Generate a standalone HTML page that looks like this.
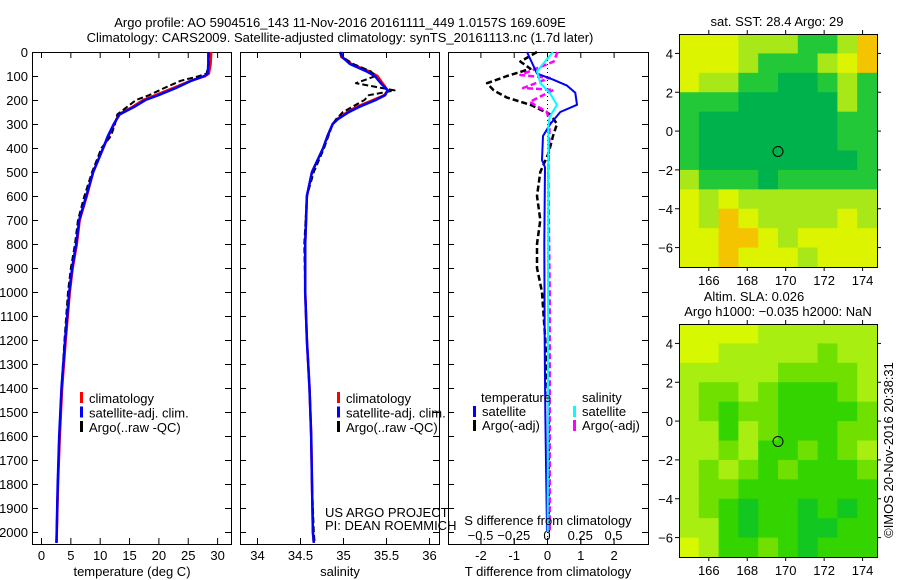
<!DOCTYPE html>
<html><head><meta charset="utf-8">
<style>
body{margin:0;background:#fff;}
svg{display:block;font-family:"Liberation Sans",sans-serif;}
text{font-size:13px;fill:#000;}
</style></head>
<body>
<svg id="c" width="900" height="580" viewBox="0 0 900 580"></svg>
<script>
// ---- data ----
const tDepth=[0,50,90,100,120,150,180,200,230,260,300,350,400,500,600,700,800,900,1000,1200,1400,1600,1800,2000,2045];
const tClim=[29.0,28.9,28.6,28.0,25.5,22.5,19.5,17.4,15.5,13.2,12.5,11.5,10.6,8.9,7.8,6.6,6.1,5.4,4.9,4.2,3.6,3.2,2.9,2.7,2.65];
const tSat=[28.5,28.5,28.4,27.8,25.6,23.0,20.0,17.8,15.8,13.4,12.4,11.4,10.6,8.9,7.7,6.5,6.0,5.3,4.8,4.1,3.5,3.1,2.85,2.68,2.63];
const tArgo=[28.6,28.6,28.2,27.0,23.8,21.0,18.4,16.2,14.6,13.0,12.6,11.9,10.3,8.7,7.4,6.3,5.8,5.1,4.6,4.0,3.5,3.1,2.85,2.68,2.63];
const sDepth=[0,20,50,80,100,130,160,180,200,230,250,280,300,350,400,500,600,800,1000,1200,1400,1600,1800,2000,2045];
const sClim=[34.97,34.98,35.1,35.3,35.4,35.46,35.52,35.48,35.35,35.15,35.05,34.93,34.88,34.82,34.77,34.64,34.58,34.56,34.56,34.58,34.61,34.63,34.64,34.65,34.66];
const sSat=[34.98,34.99,35.08,35.27,35.37,35.44,35.52,35.49,35.38,35.18,35.07,34.94,34.88,34.82,34.77,34.64,34.58,34.56,34.56,34.58,34.61,34.63,34.64,34.65,34.66];
const sArgo=[34.96,34.99,35.12,35.32,35.38,35.15,35.6,35.3,35.25,35.1,35.0,34.92,34.88,34.83,34.78,34.66,34.58,34.55,34.56,34.58,34.61,34.63,34.64,34.66,34.67];
const dtSatDepth=[0,90,115,140,170,220,250,300,350,450,480,800,1200,1500,1800,2000];
const dtSat=[-0.6,-0.3,0.18,0.6,0.85,0.9,0.4,0.1,-0.12,-0.15,-0.06,-0.08,-0.07,-0.05,-0.02,0];
const dsSatDepth=[0,80,130,170,220,270,310,2000];
const dsSat=[0.045,-0.075,-0.05,0.02,0.075,0.02,0.01,0.005];
const dtArgoDepth=[0,40,70,100,130,160,190,220,260,300,350,420,500,600,700,800,900,1000,1200,1500,2000];
const dtArgo=[-0.3,-0.8,-0.5,-1.2,-1.8,-1.6,-1.2,-0.5,0.1,0.3,0.18,0.05,-0.2,-0.3,-0.2,-0.3,-0.3,-0.15,-0.05,0.05,0.05];
const dsArgoDepth=[0,40,96,108,150,158,208,250,300,500,1000,1500,2000];
const dsArgo=[0.08,0.05,-0.2,0.02,-0.18,0.05,-0.13,0,0.02,0.01,0.02,0.02,0.02];
const depthTicks=[0,100,200,300,400,500,600,700,800,900,1000,1100,1200,1300,1400,1500,1600,1700,1800,1900,2000];
const tTicks=[0,5,10,15,20,25,30];
const sTicks=[34,34.5,35,35.5,36];
const sTickLabels=["34","34.5","35","35.5","36"];
const dTTicks=[-2,-1,0,1,2];
const dSTicks=[-0.5,-0.25,0,0.25,0.5];
const dSTickLabels=["\u22120.5","\u22120.25","0","0.25","0.5"];
const lonTicks=[166,168,170,172,174];
const latTicks=[4,2,0,-2,-4,-6];
const sstGrid=[
[0,0,0,1,1,1,2,2,1,4],
[0,0,0,1,2,2,2,1,0,4],
[0,1,1,2,2,3,3,2,1,2],
[2,2,2,3,3,3,3,3,1,2],
[2,3,3,3,3,3,3,3,2,2],
[2,3,3,3,3,3,3,3,2,2],
[2,3,3,3,3,3,3,3,3,2],
[1,2,2,2,3,2,2,2,2,2],
[0,1,0,1,1,1,1,1,1,1],
[0,1,4,0,1,1,1,1,0,1],
[0,0,4,4,0,1,0,0,0,0],
[0,0,4,0,0,0,1,0,0,0]];
const slaGrid=[
[0,0,0,0,1,1,1,1,1,1],
[0,0,1,1,1,1,1,2,1,1],
[1,1,1,1,1,2,2,2,2,1],
[1,2,2,1,2,3,3,3,2,1],
[1,2,3,2,2,3,3,3,3,2],
[1,1,3,1,2,3,3,3,2,2],
[1,1,2,1,3,3,2,3,2,1],
[1,2,1,2,3,2,3,3,3,2],
[1,2,2,3,3,3,3,3,3,3],
[1,2,3,4,3,3,4,3,4,3],
[1,1,3,4,3,3,4,4,3,3],
[0,1,3,3,2,3,4,3,3,3]];
const sstColors=["#dcf400","#a8e818","#22c838","#00b24c","#f4c400"];
const slaColors=["#d6f800","#a8ee10","#70e000","#34d400","#12c820"];
const argoLon=169.6, argoLat=-1.05;

// ---- helpers ----
const NS="http://www.w3.org/2000/svg";
const svg=document.getElementById('c');
function el(tag,attrs,parent){const e=document.createElementNS(NS,tag);for(const k in attrs)e.setAttribute(k,attrs[k]);(parent||svg).appendChild(e);return e;}
function txt(x,y,s,anchor,parent,name){const t=el('text',{x:x,y:y,'text-anchor':anchor||'start'},parent);t.textContent=s;


return t;}
const y=d=>52+d*0.24;
const PB=544;

function panel(x0,x1,name){
  const g=el('g',{});
  
  
  const r=el('rect',{x:x0+0.5,y:52.5,width:x1-x0,height:PB-52,fill:'none',stroke:'#000','stroke-width':1},g);
  
  
  depthTicks.forEach(d=>{
    el('line',{x1:x0,x2:x0+6,y1:y(d)+0.5,y2:y(d)+0.5,stroke:'#000'},g);
    el('line',{x1:x1-6,x2:x1,y1:y(d)+0.5,y2:y(d)+0.5,stroke:'#000'},g);
  });
  return g;
}
function line(g,xs,ds,xf,color,w,dash,name){
  const pts=xs.map((v,i)=>xf(v).toFixed(1)+','+y(ds[i]).toFixed(1)).join(' ');
  const p=el('polyline',{points:pts,fill:'none',stroke:color,'stroke-width':w,'stroke-dasharray':dash||'none','stroke-linejoin':'round'},g);
  
  
}
function xticks(g,ticks,labels,xf,ytop,ybot,ylab){
  ticks.forEach((t,i)=>{const X=xf(t)+0.5;
    el('line',{x1:X,x2:X,y1:ybot-6,y2:ybot,stroke:'#000'},g);
    el('line',{x1:X,x2:X,y1:ytop,y2:ytop+6,stroke:'#000'},g);
    if(ylab) txt(X,ylab,labels[i],'middle',g,'x-tick-label');});
}

// titles
txt(340,27,"Argo profile: AO 5904516_143 11-Nov-2016 20161111_449 1.0157S 169.609E",'middle',svg,'title-line-1');
txt(340,42,"Climatology: CARS2009. Satellite-adjusted climatology: synTS_20161113.nc (1.7d later)",'middle',svg,'title-line-2');

// depth labels
depthTicks.forEach(d=>txt(28,y(d)+5,String(d),'end',svg,'depth-tick-label'));

// panel 1 temperature
const xT=v=>41+v*5.87;
const g1=panel(32,231,'temperature-panel');
xticks(g1,tTicks,tTicks.map(String),xT,52,PB,560);
line(g1,tClim,tDepth,xT,'#f00',2.5,null,'temp-climatology-line');
line(g1,tArgo,tDepth,xT,'#000',2,'6,3','temp-argo-line');
line(g1,tSat,tDepth,xT,'#00f',2.5,null,'temp-satellite-line');
txt(132,576,"temperature (deg C)",'middle',g1,'x-axis-title');

// panel 2 salinity
const xS=v=>257+(v-34)*86;
const g2=panel(240,439,'salinity-panel');
xticks(g2,sTicks,sTickLabels,xS,52,PB,560);
line(g2,sClim,sDepth,xS,'#f00',2.5,null,'sal-climatology-line');
line(g2,sArgo,sDepth,xS,'#000',2,'6,3','sal-argo-line');
line(g2,sSat,sDepth,xS,'#00f',2.5,null,'sal-satellite-line');
txt(340,576,"salinity",'middle',g2,'x-axis-title');
txt(325,517,"US ARGO PROJECT",'start',g2,'project-credit');
txt(325,530,"PI: DEAN ROEMMICH",'start',g2,'pi-credit');

// legends 1,2
function legend(g,x,rows){rows.forEach((r,i)=>{const Y=398+i*14.5;
  el('rect',{x:x,y:Y-6,width:3,height:11,fill:r[0]},g);
  txt(x+9,Y+5,r[1],'start',g,'legend-entry');});}
legend(g1,80,[['#f00','climatology'],['#00f','satellite-adj. clim.'],['#000','Argo(..raw -QC)']]);
legend(g2,337,[['#f00','climatology'],['#00f','satellite-adj. clim.'],['#000','Argo(..raw -QC)']]);

// panel 3 differences
const xdT=v=>547+v*33.3;
const xdS=v=>547+v*133;
const g3=panel(448,648,'difference-panel');
xticks(g3,dTTicks,dTTicks.map(String),xdT,52,PB,560);
dSTicks.forEach((t,i)=>{el('line',{x1:xdS(t)+0.5,x2:xdS(t)+0.5,y1:PB-6,y2:PB,stroke:'#000'},g3);txt(xdS(t),540,dSTickLabels[i],'middle',g3,'s-tick-label');});
el('line',{x1:547.5,x2:547.5,y1:52,y2:PB,stroke:'#000','stroke-dasharray':'1,3'},g3);
line(g3,dtArgo,dtArgoDepth,xdT,'#000',2.5,'6,3','temp-diff-argo-line');
line(g3,dsArgo,dsArgoDepth,xdS,'#f0f',2.5,'6,3','sal-diff-argo-line');
line(g3,dtSat,dtSatDepth,xdT,'#00f',2,null,'temp-diff-satellite-line');
line(g3,dsSat,dsSatDepth,xdS,'#0ff',2,null,'sal-diff-satellite-line');
txt(548,525,"S difference from climatology",'middle',g3,'s-axis-title');
txt(548,576,"T difference from climatology",'middle',g3,'t-axis-title');
txt(481,402,"temperature",'start',g3,'legend-title-temp');
txt(582,402,"salinity",'start',g3,'legend-title-sal');
[[473,'#00f','satellite',416],[473,'#000','Argo(-adj)',430],[573,'#0ff','satellite',416],[573,'#f0f','Argo(-adj)',430]].forEach(r=>{
  el('rect',{x:r[0],y:r[3]-10,width:3,height:11,fill:r[1]},g3);txt(r[0]+9,r[3],r[2],'start',g3,'legend-entry');});

// maps
function map(top,bot,grid,colors,name){
  const L=679,R=877,lon0=164.45,lon1=174.75,lat0=5,lat1=-7;
  const mx=v=>L+(v-lon0)/(lon1-lon0)*(R-L);
  const my=v=>top+(lat0-v)/(lat0-lat1)*(bot-top);
  const g=el('g',{});
  
  
  const nr=grid.length,nc=grid[0].length;
  grid.forEach((row,i)=>row.forEach((v,j)=>{
    const la=lat0-(lat0-lat1)*i/nr, la2=lat0-(lat0-lat1)*(i+1)/nr;
    const lo=lon0+(lon1-lon0)*j/nc, lo2=lon0+(lon1-lon0)*(j+1)/nc;
    const c=el('rect',{x:mx(lo),y:my(la),width:mx(lo2)-mx(lo)+0.6,height:my(la2)-my(la)+0.6,fill:colors[v]},g);
    
    
  }));
  el('rect',{x:L+0.5,y:top+0.5,width:R-L,height:bot-top,fill:'none',stroke:'#000'},g);
  lonTicks.forEach(t=>{const X=mx(t);el('line',{x1:X,x2:X,y1:top-4,y2:top,stroke:'#000'},g);el('line',{x1:X,x2:X,y1:bot,y2:bot+4,stroke:'#000'},g);txt(X,bot+18,String(t),'middle',g,'lon-tick-label');});
  latTicks.forEach(t=>{const Y=my(t);el('line',{x1:L-4,x2:L,y1:Y,y2:Y,stroke:'#000'},g);el('line',{x1:R,x2:R+4,y1:Y,y2:Y,stroke:'#000'},g);txt(L-6,Y+5,String(t).replace('-','\u2212'),'end',g,'lat-tick-label');});
  const c=el('circle',{cx:mx(argoLon),cy:my(argoLat),r:5,fill:'none',stroke:'#000'},g);
  
  
}
map(34,267,sstGrid,sstColors,'sst-map');
map(324,557,slaGrid,slaColors,'sla-map');
txt(777,26,"sat. SST: 28.4 Argo: 29",'middle',svg,'sst-map-title');
txt(754,301,"Altim. SLA: 0.026",'middle',svg,'sla-map-title');
txt(778,316,"Argo h1000: \u22120.035 h2000: NaN",'middle',svg,'sla-map-subtitle');
const cr=txt(0,0,"\u00A9IMOS 20-Nov-2016 20:38:31",'middle',svg,'copyright-timestamp');
cr.setAttribute('transform','translate(893,450) rotate(-90)');
</script>
</body></html>
